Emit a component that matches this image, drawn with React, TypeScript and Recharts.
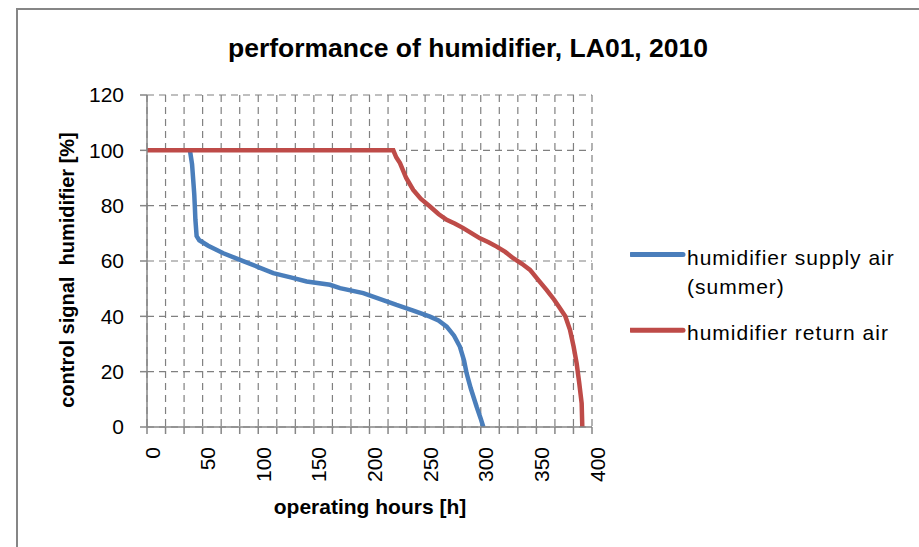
import { LineChart, Line, XAxis, YAxis, CartesianGrid, Legend } from 'recharts'

// duration curves
const supplyHours = [38.6, 40.5, 41.6, 42.5, 43, 43.5, 44.6, 47, 55, 68.6, 83.6, 100, 113.5, 130, 143.5, 164.5, 173.5, 194.4, 224.3, 240, 254.4, 262, 269.4, 276, 281.3, 285, 287.3, 291, 296.3, 300, 302.3]
const supplySignal = [100, 95, 89, 84, 79.7, 75, 69, 67.5, 65.5, 62.8, 60.4, 57.8, 55.6, 54, 52.6, 51.4, 50.2, 48.4, 44.1, 42, 39.9, 38.5, 36.3, 33, 29, 24, 19.4, 14, 7.3, 3, 0]

const returnHours = [0, 221.4, 224, 227.4, 233, 239.3, 246, 254.4, 262, 269.4, 277, 284.3, 292, 299.3, 307, 314.3, 322, 329.2, 337, 344.3, 352, 359.3, 366, 371.2, 376, 380.2, 383.5, 386.2, 388.5, 390.7, 391.3]
const returnSignal = [100, 100, 97.5, 95.4, 90, 85.7, 82.5, 79.7, 77, 74.9, 73.5, 71.9, 70, 68.2, 66.8, 65.2, 63.3, 61, 59, 56.8, 53, 49.5, 46, 42.9, 40, 35.1, 29, 23, 16, 8.6, 0]

const xLabels = [0, 50, 100, 150, 200, 250, 300, 350, 400]
const yTicks = [0, 20, 40, 60, 80, 100, 120]
const xDivisions = 24

const supplyData = supplyHours.map((h, i) => ({ hours: h, signal: supplySignal[i] }))
const returnData = returnHours.map((h, i) => ({ hours: h, signal: returnSignal[i] }))
const xTicks = Array.from({ length: xDivisions + 1 }, (_, i) => (400 * i) / xDivisions)

const FONT = '"Liberation Sans", Arial, sans-serif'
const BLUE = '#4A7EBB'
const RED = '#BE4B48'
const AXIS = '#868686'

function XTick({ x, y, payload }: any) {
  const v = Math.round(payload.value)
  if (Math.abs(payload.value - v) > 0.01 || !xLabels.includes(v)) return <g />
  const cx = x + 5
  const cy = y + 11
  return (
    <text x={cx} y={cy} transform={`rotate(-90, ${cx}, ${cy})`} textAnchor="end" dominantBaseline="central"
      fontFamily={FONT} fontSize={21} fill="#000">
      {v}
    </text>
  )
}

function LegendBox() {
  const row = { display: 'flex', alignItems: 'flex-start' } as const
  return (
    <div style={{ fontFamily: FONT, fontSize: 21, lineHeight: '29px', letterSpacing: 1, color: '#000', width: 289, whiteSpace: 'nowrap' }}>
      <div style={row}>
        <svg width={57} height={29}><line x1={1} x2={53} y1={11.5} y2={11.5} stroke={BLUE} strokeWidth={5} strokeLinecap="round" /></svg>
        <div>humidifier supply air<br />(summer)</div>
      </div>
      <div style={{ ...row, marginTop: 17 }}>
        <svg width={57} height={29}><line x1={1} x2={53} y1={12.2} y2={12.2} stroke={RED} strokeWidth={5} strokeLinecap="round" /></svg>
        <div>humidifier return air</div>
      </div>
    </div>
  )
}

export default function App() {
  return (
    <div style={{ position: 'absolute', left: 0, top: 0, width: 919, height: 547, background: '#fff', overflow: 'hidden' }}>
      <div style={{ position: 'absolute', left: 16, top: 8, width: 920, height: 560, borderLeft: `2px solid ${AXIS}`, borderTop: `2px solid ${AXIS}` }} />
      <div style={{ position: 'absolute', left: 0, top: 33, width: 936, textAlign: 'center', fontFamily: FONT, fontWeight: 'bold', fontSize: 26.5, lineHeight: '30px' }}>
        performance of humidifier, LA01, 2010
      </div>
      <div style={{ position: 'absolute', left: 0, top: 0 }}>
        <LineChart width={919} height={547} margin={{ top: 95, right: 327, left: 40, bottom: 40 }}>
          <CartesianGrid stroke="#808080" strokeDasharray="7 5" strokeWidth={1.2} />
          <XAxis type="number" dataKey="hours" domain={[0, 400]} ticks={xTicks} interval={0} height={80}
            tick={<XTick />} tickSize={7} stroke={AXIS} strokeWidth={1.5} allowDataOverflow
            label={({ viewBox }: any) => (
              <text x={370} y={viewBox.y + 87} textAnchor="middle" fontFamily={FONT} fontWeight="bold" fontSize={21} fill="#000">
                operating hours [h]
              </text>
            )} />
          <YAxis type="number" dataKey="signal" domain={[0, 120]} ticks={yTicks} interval={0} width={107}
            tickSize={7} tickMargin={16} stroke={AXIS} strokeWidth={1.5}
            tick={{ fontFamily: FONT, fontSize: 21, fill: '#000' }}
            label={({ viewBox }: any) => (
              <text x={viewBox.x + 27} y={270} transform={`rotate(-90, ${viewBox.x + 27}, 270)`} textAnchor="middle"
                dominantBaseline="central" fontFamily={FONT} fontWeight="bold" fontSize={20} fill="#000" style={{ whiteSpace: 'pre' }}>
                control signal  humidifier [%]
              </text>
            )} />
          <Line data={supplyData} dataKey="signal" name="humidifier supply air (summer)" type="linear" stroke={BLUE} strokeWidth={4.5} dot={false} isAnimationActive={false} />
          <Line data={returnData} dataKey="signal" name="humidifier return air" type="linear" stroke={RED} strokeWidth={4.5} dot={false} isAnimationActive={false} />
          <Legend layout="vertical" align="center" verticalAlign="middle" content={() => <LegendBox />}
            wrapperStyle={{ left: 630, top: 243, width: 289 }} />
        </LineChart>
      </div>
    </div>
  )
}
